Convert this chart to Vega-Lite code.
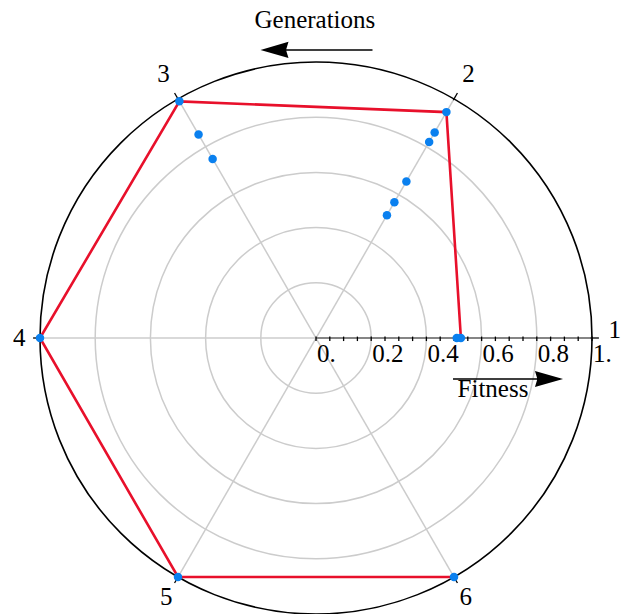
{
  "$schema": "https://vega.github.io/schema/vega-lite/v6.json",
  "width": 623,
  "height": 614,
  "padding": 0,
  "autosize": {"type": "none"},
  "background": "white",
  "config": {"view": {"stroke": null}, "text": {"font": "Liberation Serif", "fontSize": 25, "color": "black"}},
  "datasets": {
    "points": [
      {"gen": 1, "fitness": 0.51},
      {"gen": 1, "fitness": 0.525},
      {"gen": 2, "fitness": 0.945},
      {"gen": 2, "fitness": 0.86},
      {"gen": 2, "fitness": 0.82},
      {"gen": 2, "fitness": 0.655},
      {"gen": 2, "fitness": 0.568},
      {"gen": 2, "fitness": 0.514},
      {"gen": 3, "fitness": 0.99},
      {"gen": 3, "fitness": 0.851},
      {"gen": 3, "fitness": 0.749},
      {"gen": 4, "fitness": 1.0},
      {"gen": 5, "fitness": 1.0},
      {"gen": 6, "fitness": 1.0}
    ],
    "grid": [{"r": 0.2}, {"r": 0.4}, {"r": 0.6}, {"r": 0.8}],
    "outer": [{"r": 1.0}],
    "spokes": [
      {"gen": 1, "r": 0}, {"gen": 1, "r": 1}, {"gen": 2, "r": 0}, {"gen": 2, "r": 1},
      {"gen": 3, "r": 0}, {"gen": 3, "r": 1}, {"gen": 4, "r": 0}, {"gen": 4, "r": 1},
      {"gen": 5, "r": 0}, {"gen": 5, "r": 1}, {"gen": 6, "r": 0}, {"gen": 6, "r": 1}
    ],
    "angleticks": [
      {"gen": 1, "r": 0.995}, {"gen": 1, "r": 1.025}, {"gen": 2, "r": 0.995}, {"gen": 2, "r": 1.025},
      {"gen": 3, "r": 0.995}, {"gen": 3, "r": 1.025}, {"gen": 4, "r": 0.995}, {"gen": 4, "r": 1.025},
      {"gen": 5, "r": 0.995}, {"gen": 5, "r": 1.025}, {"gen": 6, "r": 0.995}, {"gen": 6, "r": 1.025}
    ],
    "genlabels": [
      {"gen": 1, "label": "1"}, {"gen": 2, "label": "2"}, {"gen": 3, "label": "3"},
      {"gen": 4, "label": "4"}, {"gen": 5, "label": "5"}, {"gen": 6, "label": "6"}
    ],
    "ticks": [
      {"v": 0}, {"v": 0.05}, {"v": 0.1}, {"v": 0.15}, {"v": 0.2}, {"v": 0.25}, {"v": 0.3},
      {"v": 0.35}, {"v": 0.4}, {"v": 0.45}, {"v": 0.5}, {"v": 0.55}, {"v": 0.6}, {"v": 0.65},
      {"v": 0.7}, {"v": 0.75}, {"v": 0.8}, {"v": 0.85}, {"v": 0.9}, {"v": 0.95}, {"v": 1.0}
    ],
    "ticklabels": [
      {"v": 0, "label": "0."}, {"v": 0.2, "label": "0.2"}, {"v": 0.4, "label": "0.4"},
      {"v": 0.6, "label": "0.6"}, {"v": 0.8, "label": "0.8"}, {"v": 1.0, "label": "1."}
    ],
    "titles": [{"label": "Generations"}, {"label": "Fitness"}]
  },
  "layer": [
    {
      "data": {"name": "grid"},
      "mark": {"type": "point", "filled": false, "shape": "circle", "stroke": "#cccccc", "strokeWidth": 1.5, "opacity": 1},
      "encoding": {
        "x": {"datum": 0, "type": "quantitative", "scale": {"domain": [-1.144928, 1.112319], "nice": false, "zero": false}, "axis": null},
        "y": {"datum": 0, "type": "quantitative", "scale": {"domain": [-1, 1.224638], "nice": false, "zero": false}, "axis": null},
        "size": {"field": "r", "type": "quantitative", "scale": {"type": "pow", "exponent": 2, "domain": [0, 1], "range": [0, 304704]}, "legend": null}
      }
    },
    {
      "data": {"name": "spokes"},
      "transform": [
        {"calculate": "datum.r * cos((datum.gen - 1) * PI / 3)", "as": "sx"},
        {"calculate": "datum.r * sin((datum.gen - 1) * PI / 3)", "as": "sy"}
      ],
      "mark": {"type": "line", "color": "#cccccc", "strokeWidth": 1.5},
      "encoding": {
        "x": {"field": "sx", "type": "quantitative", "scale": {"domain": [-1.144928, 1.112319], "nice": false, "zero": false}, "axis": null},
        "y": {"field": "sy", "type": "quantitative", "scale": {"domain": [-1, 1.224638], "nice": false, "zero": false}, "axis": null},
        "detail": {"field": "gen", "type": "nominal"},
        "order": {"field": "r", "type": "quantitative"}
      }
    },
    {
      "data": {"name": "outer"},
      "mark": {"type": "point", "filled": false, "shape": "circle", "stroke": "black", "strokeWidth": 1.6, "opacity": 1},
      "encoding": {
        "x": {"datum": 0, "type": "quantitative", "scale": {"domain": [-1.144928, 1.112319], "nice": false, "zero": false}, "axis": null},
        "y": {"datum": 0, "type": "quantitative", "scale": {"domain": [-1, 1.224638], "nice": false, "zero": false}, "axis": null},
        "size": {"field": "r", "type": "quantitative", "scale": {"type": "pow", "exponent": 2, "domain": [0, 1], "range": [0, 304704]}, "legend": null}
      }
    },
    {
      "data": {"name": "angleticks"},
      "transform": [
        {"calculate": "datum.r * cos((datum.gen - 1) * PI / 3)", "as": "sx"},
        {"calculate": "datum.r * sin((datum.gen - 1) * PI / 3)", "as": "sy"}
      ],
      "mark": {"type": "line", "color": "black", "strokeWidth": 1.3},
      "encoding": {
        "x": {"field": "sx", "type": "quantitative", "scale": {"domain": [-1.144928, 1.112319], "nice": false, "zero": false}, "axis": null},
        "y": {"field": "sy", "type": "quantitative", "scale": {"domain": [-1, 1.224638], "nice": false, "zero": false}, "axis": null},
        "detail": {"field": "gen", "type": "nominal"},
        "order": {"field": "r", "type": "quantitative"}
      }
    },
    {
      "data": {"name": "ticks"},
      "mark": {"type": "line", "color": "#333333", "strokeWidth": 1.2},
      "encoding": {
        "x": {"field": "v", "type": "quantitative", "scale": {"domain": [-1.144928, 1.112319], "nice": false, "zero": false}, "axis": null},
        "y": {"datum": 0, "type": "quantitative", "scale": {"domain": [-1, 1.224638], "nice": false, "zero": false}, "axis": null}
      }
    },
    {
      "data": {"name": "ticks"},
      "mark": {"type": "point", "filled": false, "shape": "M 0 -1 L 0 1", "stroke": "black", "strokeWidth": 1.3, "opacity": 1, "size": 20},
      "encoding": {
        "x": {"field": "v", "type": "quantitative", "scale": {"domain": [-1.144928, 1.112319], "nice": false, "zero": false}, "axis": null},
        "y": {"datum": -0.003, "type": "quantitative", "scale": {"domain": [-1, 1.224638], "nice": false, "zero": false}, "axis": null}
      }
    },
    {
      "data": {"name": "ticklabels"},
      "mark": {"type": "text", "align": "left", "baseline": "alphabetic", "dx": 1},
      "encoding": {
        "x": {"field": "v", "type": "quantitative", "scale": {"domain": [-1.144928, 1.112319], "nice": false, "zero": false}, "axis": null},
        "y": {"datum": -0.087, "type": "quantitative", "scale": {"domain": [-1, 1.224638], "nice": false, "zero": false}, "axis": null},
        "text": {"field": "label"}
      }
    },
    {
      "data": {"name": "genlabels"},
      "transform": [
        {"calculate": "datum.gen == 2 || datum.gen == 3 ? 1.105 : (datum.gen == 1 ? 1.082 : (datum.gen == 4 ? 1.075 : 1.085))", "as": "lr"},
        {"calculate": "datum.lr * cos((datum.gen - 1) * PI / 3)", "as": "lx"},
        {"calculate": "datum.lr * sin((datum.gen - 1) * PI / 3) + (datum.gen == 1 ? 0.03 : 0)", "as": "ly"}
      ],
      "mark": {"type": "text", "align": "center", "baseline": "middle"},
      "encoding": {
        "x": {"field": "lx", "type": "quantitative", "scale": {"domain": [-1.144928, 1.112319], "nice": false, "zero": false}, "axis": null},
        "y": {"field": "ly", "type": "quantitative", "scale": {"domain": [-1, 1.224638], "nice": false, "zero": false}, "axis": null},
        "text": {"field": "label"}
      }
    },
    {
      "data": {"name": "titles"},
      "transform": [{"filter": "datum.label == 'Generations'"}],
      "mark": {"type": "text", "align": "center", "baseline": "alphabetic"},
      "encoding": {
        "x": {"datum": -0.004, "type": "quantitative", "scale": {"domain": [-1.144928, 1.112319], "nice": false, "zero": false}, "axis": null},
        "y": {"datum": 1.1232, "type": "quantitative", "scale": {"domain": [-1, 1.224638], "nice": false, "zero": false}, "axis": null},
        "text": {"field": "label"}
      }
    },
    {
      "data": {"name": "titles"},
      "transform": [{"filter": "datum.label == 'Generations'"}],
      "mark": {"type": "point", "filled": true, "color": "black", "opacity": 1, "size": 12544, "shape": "M -1 0 L -0.5 -0.145 L -0.54 -0.013 L 1 -0.013 L 1 0.013 L -0.54 0.013 L -0.5 0.145 Z"},
      "encoding": {
        "x": {"datum": 0.0018, "type": "quantitative", "scale": {"domain": [-1.144928, 1.112319], "nice": false, "zero": false}, "axis": null},
        "y": {"datum": 1.0435, "type": "quantitative", "scale": {"domain": [-1, 1.224638], "nice": false, "zero": false}, "axis": null}
      }
    },
    {
      "data": {"name": "titles"},
      "transform": [{"filter": "datum.label == 'Fitness'"}],
      "mark": {"type": "text", "align": "center", "baseline": "alphabetic"},
      "encoding": {
        "x": {"datum": 0.6413, "type": "quantitative", "scale": {"domain": [-1.144928, 1.112319], "nice": false, "zero": false}, "axis": null},
        "y": {"datum": -0.2138, "type": "quantitative", "scale": {"domain": [-1, 1.224638], "nice": false, "zero": false}, "axis": null},
        "text": {"field": "label"}
      }
    },
    {
      "data": {"name": "titles"},
      "transform": [{"filter": "datum.label == 'Fitness'"}],
      "mark": {"type": "point", "filled": true, "color": "black", "opacity": 1, "size": 12100, "shape": "M 1 0 L 0.49 -0.145 L 0.53 -0.013 L -1 -0.013 L -1 0.013 L 0.53 0.013 L 0.49 0.145 Z"},
      "encoding": {
        "x": {"datum": 0.6957, "type": "quantitative", "scale": {"domain": [-1.144928, 1.112319], "nice": false, "zero": false}, "axis": null},
        "y": {"datum": -0.1486, "type": "quantitative", "scale": {"domain": [-1, 1.224638], "nice": false, "zero": false}, "axis": null}
      }
    },
    {
      "data": {"name": "points"},
      "transform": [
        {"aggregate": [{"op": "max", "field": "fitness", "as": "best"}], "groupby": ["gen"]},
        {"calculate": "datum.best * cos((datum.gen - 1) * PI / 3)", "as": "px"},
        {"calculate": "datum.best * sin((datum.gen - 1) * PI / 3)", "as": "py"}
      ],
      "mark": {"type": "line", "color": "#e8102b", "strokeWidth": 2.6},
      "encoding": {
        "x": {"field": "px", "type": "quantitative", "scale": {"domain": [-1.144928, 1.112319], "nice": false, "zero": false}, "axis": null},
        "y": {"field": "py", "type": "quantitative", "scale": {"domain": [-1, 1.224638], "nice": false, "zero": false}, "axis": null},
        "order": {"field": "gen", "type": "quantitative"}
      }
    },
    {
      "data": {"name": "points"},
      "transform": [
        {"calculate": "datum.fitness * cos((datum.gen - 1) * PI / 3)", "as": "px"},
        {"calculate": "datum.fitness * sin((datum.gen - 1) * PI / 3)", "as": "py"}
      ],
      "mark": {"type": "point", "filled": true, "shape": "circle", "color": "#0a80ef", "opacity": 1, "size": 72},
      "encoding": {
        "x": {"field": "px", "type": "quantitative", "scale": {"domain": [-1.144928, 1.112319], "nice": false, "zero": false}, "axis": null},
        "y": {"field": "py", "type": "quantitative", "scale": {"domain": [-1, 1.224638], "nice": false, "zero": false}, "axis": null}
      }
    }
  ]
}
